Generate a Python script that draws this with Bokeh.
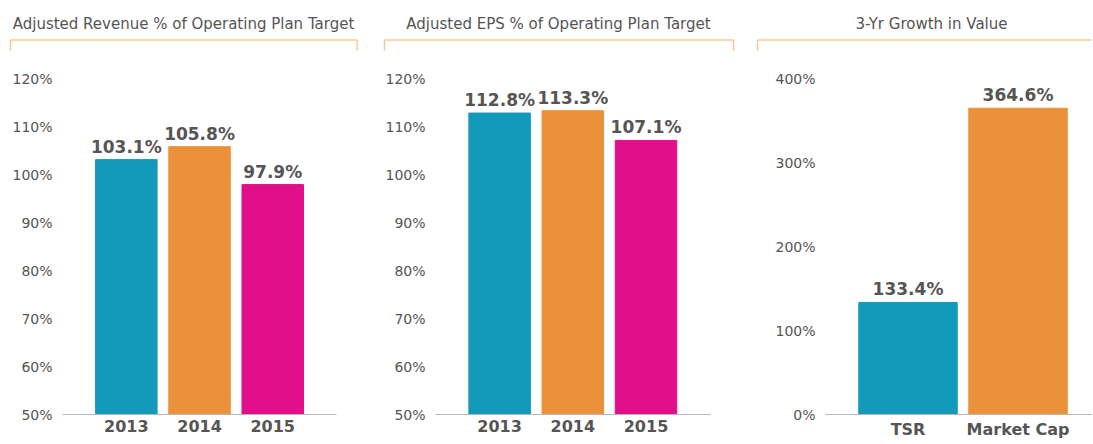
from bokeh.plotting import figure
from bokeh.layouts import column, row
from bokeh.models import Range1d, FixedTicker, PrintfTickFormatter, ColumnDataSource
from bokeh.core.properties import value
from bokeh.embed import file_html
from bokeh.resources import INLINE

# ---- data ----
titles = ["Adjusted Revenue % of Operating Plan Target",
          "Adjusted EPS % of Operating Plan Target",
          "3-Yr Growth in Value"]
years = ["2013", "2014", "2015"]
revenue_pct = [103.1, 105.8, 97.9]
eps_pct = [112.8, 113.3, 107.1]
growth_cats = ["TSR", "Market Cap"]
growth_pct = [133.4, 364.6]
pct_ticks_a = [50, 60, 70, 80, 90, 100, 110, 120]
pct_ticks_b = [0, 100, 200, 300, 400]

COLORS = ["#1399b9", "#ea913a", "#e1108a"]
FONT = "DejaVu Sans"
TXT = "#555555"
BRACKET = "#f7c89b"

HEADER_H = 54
CHART_H = 388


def header(title, width, left, right, title_x, show_right=True):
    h = figure(width=width, height=HEADER_H, x_range=Range1d(0, width),
               y_range=Range1d(HEADER_H, 0), output_backend="svg",
               toolbar_location=None, min_border=0)
    try:
        h.frame_align = False
    except Exception:
        pass
    h.axis.visible = False
    h.grid.visible = False
    h.outline_line_color = None
    h.text(x=[title_x], y=[23], text=[title], text_font=value(FONT),
           text_font_size="15px", text_color=TXT, text_align="center",
           text_baseline="middle")
    xs0 = [left, left]
    ys0 = [39.5, 39.5]
    xs1 = [right, left]
    ys1 = [39.5, 50]
    if show_right:
        xs0.append(right); ys0.append(39.5); xs1.append(right); ys1.append(50)
    h.segment(x0=xs0, y0=ys0, x1=xs1, y1=ys1, line_color=BRACKET, line_width=1.5)
    return h


def chart(cats, vals, width, bl, br, xstart, xend, ystart, yend, ticks, bar_w):
    p = figure(width=width, height=CHART_H, x_range=Range1d(xstart, xend),
               y_range=Range1d(ystart, yend), output_backend="svg",
               toolbar_location=None, min_border_left=bl, min_border_right=br,
               min_border_top=0, min_border_bottom=CHART_H - 360)
    try:
        p.frame_align = False
    except Exception:
        pass
    p.grid.visible = False
    p.outline_line_color = None
    xs = list(range(len(cats)))
    src = ColumnDataSource(dict(x=xs, top=vals, color=COLORS[:len(cats)],
                                label=[f"{v:.1f}%" for v in vals]))
    p.vbar(x="x", top="top", bottom=ystart, width=bar_w, color="color", source=src)
    p.text(x="x", y="top", text="label", source=src, text_font=value(FONT),
           text_font_style="bold", text_font_size="17px", text_color=TXT,
           text_align="center", text_baseline="alphabetic", y_offset=-13)
    xa = p.xaxis[0]
    xa.ticker = FixedTicker(ticks=xs)
    xa.major_label_overrides = {i: c for i, c in enumerate(cats)}
    xa.axis_line_color = "#b8b8b8"
    xa.major_tick_line_color = None
    xa.minor_tick_line_color = None
    xa.major_tick_out = 0
    xa.major_label_standoff = 5
    xa.major_label_text_font = FONT
    xa.major_label_text_font_style = "bold"
    xa.major_label_text_font_size = "16px"
    xa.major_label_text_color = TXT
    ya = p.yaxis[0]
    ya.ticker = FixedTicker(ticks=ticks)
    ya.formatter = PrintfTickFormatter(format="%d%%")
    ya.axis_line_color = None
    ya.major_tick_line_color = None
    ya.minor_tick_line_color = None
    ya.major_tick_out = 0
    ya.major_label_standoff = 10
    ya.major_label_text_font = FONT
    ya.major_label_text_font_size = "14px"
    ya.major_label_text_color = TXT
    return p


h1 = header(titles[0], 376, 10, 356.5, 183)
h2 = header(titles[1], 369, 8, 357, 182)
h3 = header(titles[2], 347, 12, 347, 186, show_right=False)

c1 = chart(years, revenue_pct, 376, 62, 40, -0.872, 2.871, 50, 125, pct_ticks_a, 0.84)
c2 = chart(years, eps_pct, 369, 59, 35, -0.876, 2.881, 50, 125, pct_ticks_a, 0.84)
c3 = chart(growth_cats, growth_pct, 347, 80, 0, -0.75, 1.677, 0, 360 / 0.84, pct_ticks_b, 0.895)

layout = row(column(h1, c1), column(h2, c2), column(h3, c3))
open("out.html", "w").write(file_html(layout, INLINE))
